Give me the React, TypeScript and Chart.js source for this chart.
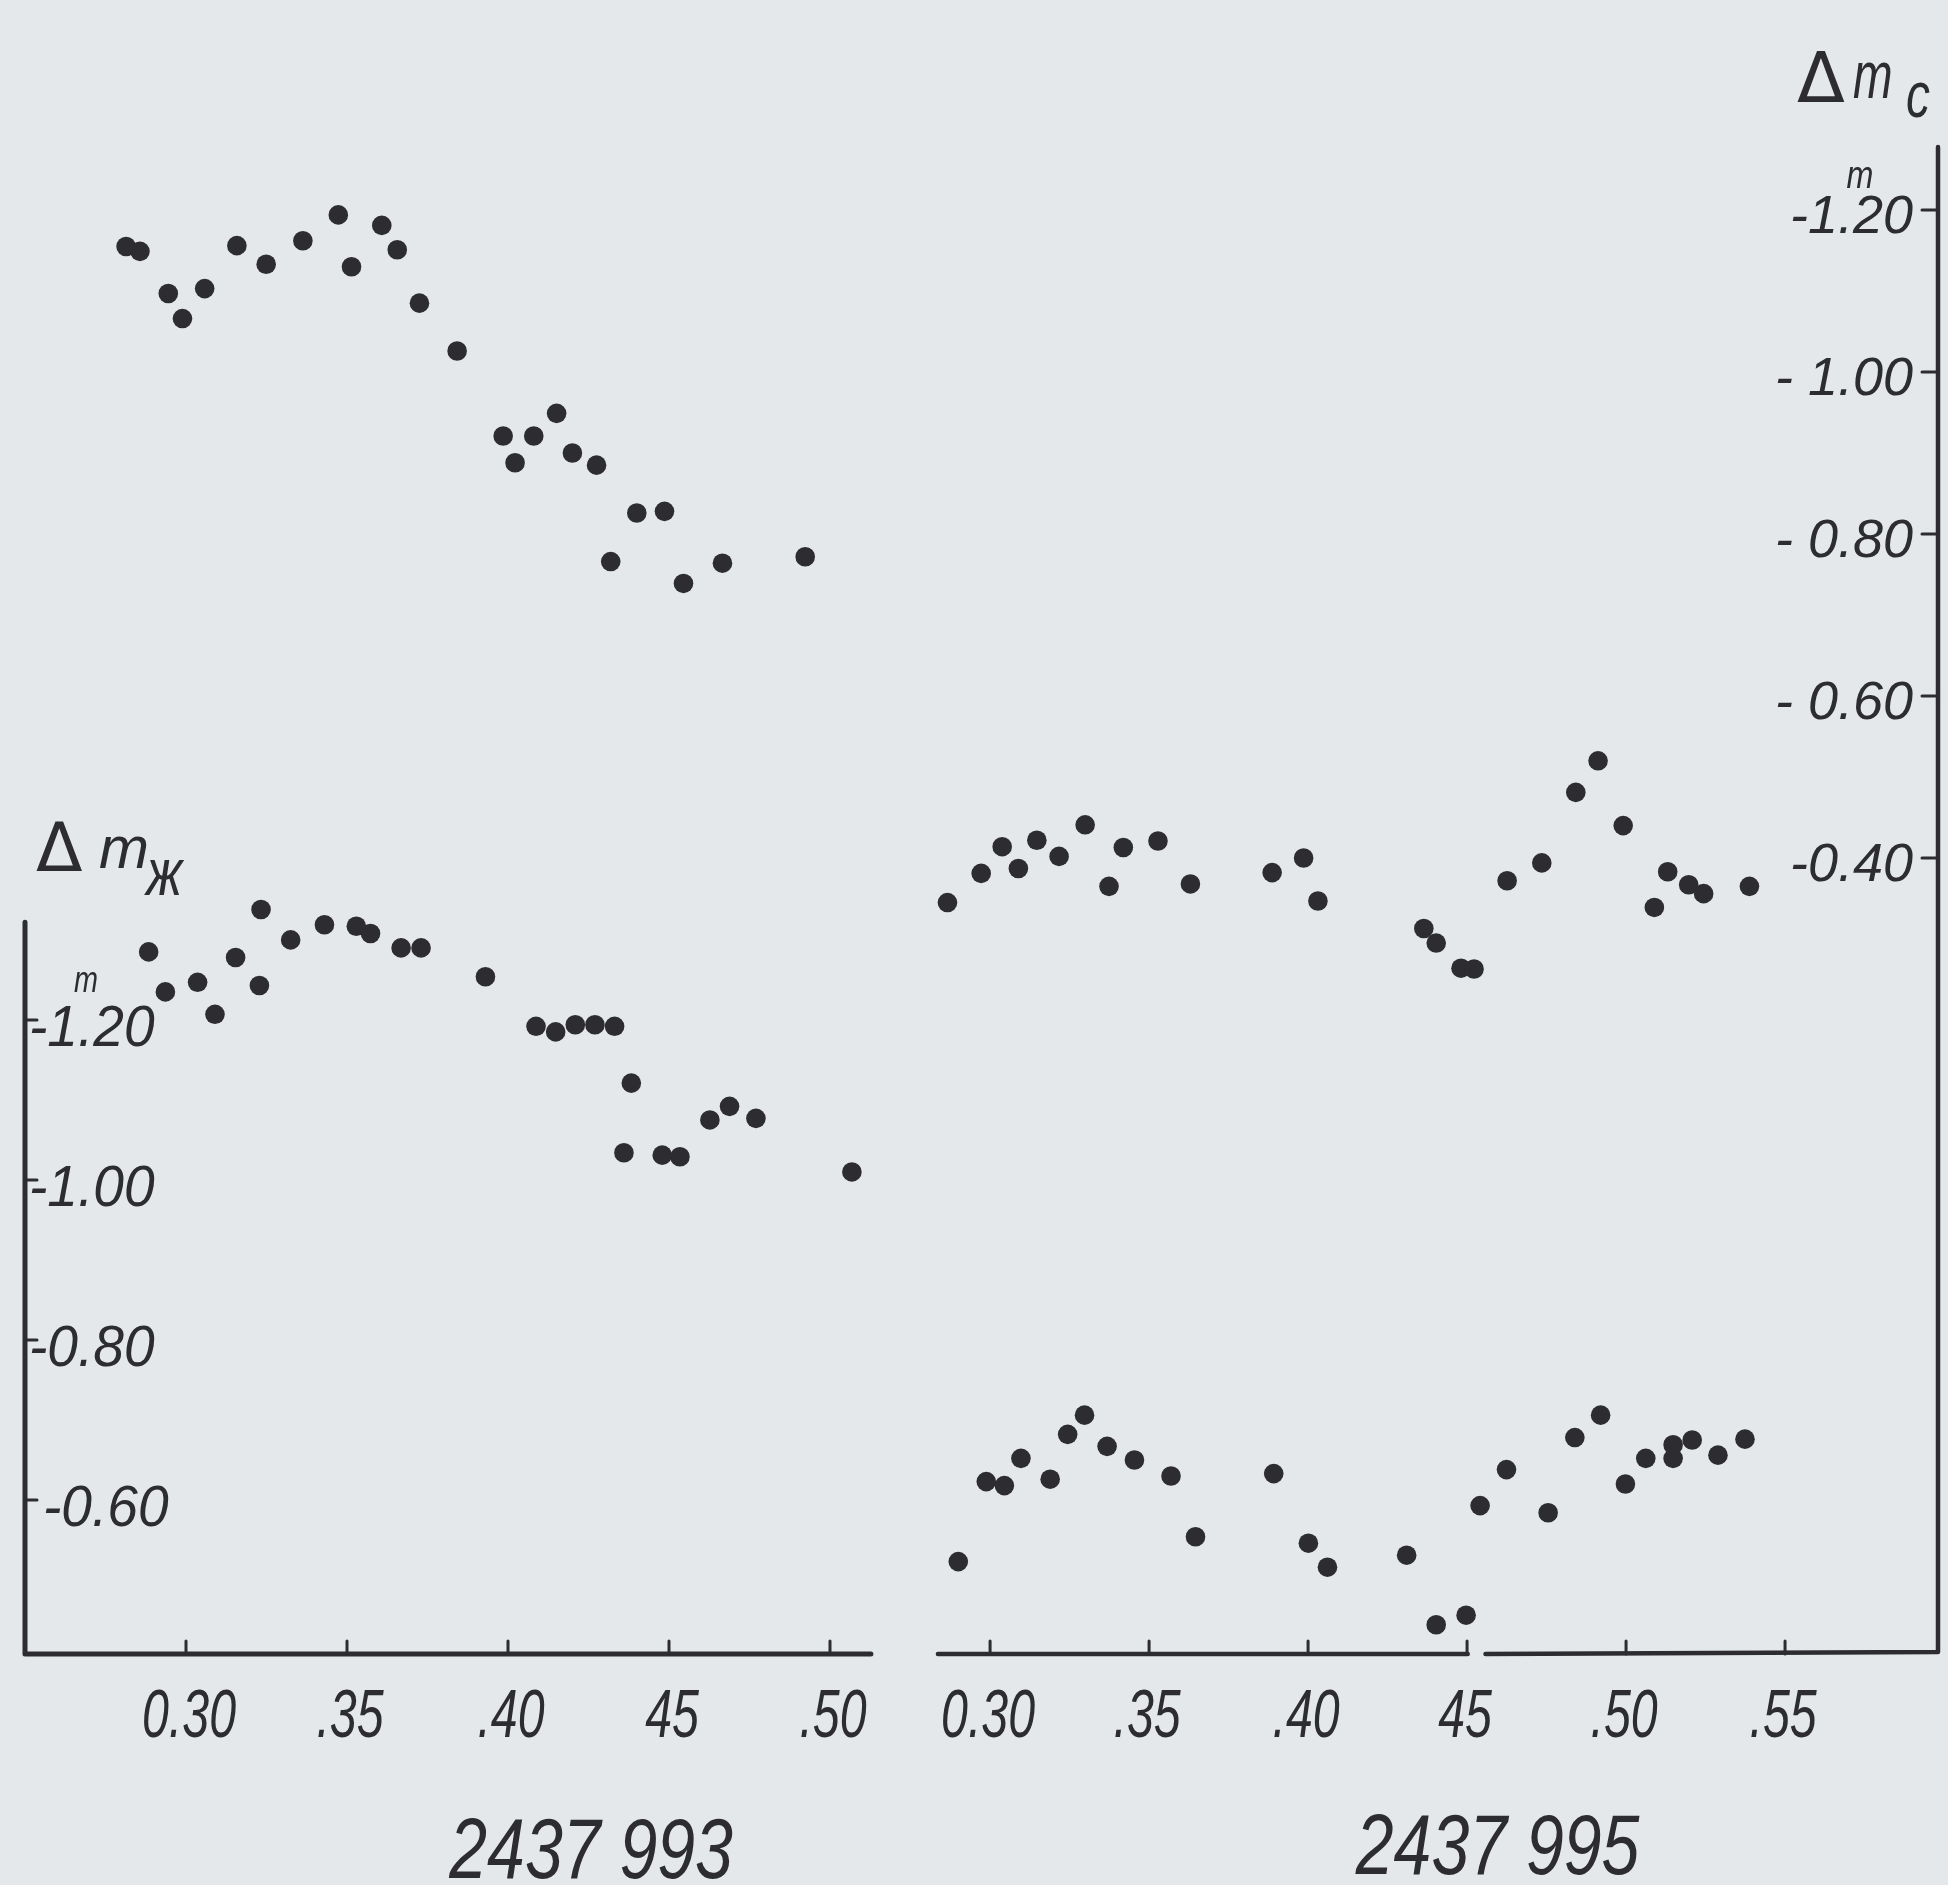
import React, { useEffect, useRef } from "react";
import { Chart, registerables } from "chart.js";

Chart.register(...registerables);

// ---- Data: JD 2437 993, comparison-star magnitude differences ----
const phaseC993 = [0.2814, 0.2857, 0.2945, 0.2989, 0.3058, 0.3158, 0.3249, 0.3363, 0.3473, 0.3514, 0.3608, 0.3656, 0.3725, 0.3842, 0.3985, 0.4022, 0.408, 0.4151, 0.42, 0.4275, 0.4319, 0.44, 0.4486, 0.4545, 0.4666, 0.4923];
const magC993 = [-1.155, -1.149, -1.097, -1.066, -1.103, -1.156, -1.133, -1.162, -1.194, -1.13, -1.181, -1.151, -1.085, -1.026, -0.921, -0.888, -0.921, -0.949, -0.9, -0.885, -0.766, -0.826, -0.828, -0.739, -0.764, -0.772];

const phaseZh993 = [0.2884, 0.2936, 0.3036, 0.309, 0.3154, 0.3228, 0.3233, 0.3325, 0.343, 0.3529, 0.3573, 0.3668, 0.373, 0.393, 0.4087, 0.4148, 0.4209, 0.427, 0.4331, 0.4383, 0.436, 0.4479, 0.4534, 0.4627, 0.4688, 0.477, 0.5068];
const magZh993 = [-1.285, -1.235, -1.247, -1.207, -1.278, -1.243, -1.338, -1.3, -1.319, -1.317, -1.308, -1.29, -1.29, -1.254, -1.192, -1.185, -1.194, -1.194, -1.192, -1.121, -1.034, -1.031, -1.029, -1.075, -1.092, -1.077, -1.01];

// ---- Data: JD 2437 995 ----
const phaseC995 = [0.2866, 0.2972, 0.3038, 0.3089, 0.3147, 0.3217, 0.3299, 0.3374, 0.3419, 0.3528, 0.363, 0.3887, 0.3986, 0.4031, 0.4364, 0.4403, 0.4481, 0.4522, 0.4626, 0.4735, 0.4842, 0.4912, 0.4991, 0.5089, 0.5131, 0.5197, 0.5244, 0.5388];
const magC995 = [-0.345, -0.381, -0.414, -0.387, -0.422, -0.402, -0.441, -0.365, -0.413, -0.421, -0.368, -0.382, -0.4, -0.347, -0.313, -0.295, -0.264, -0.263, -0.372, -0.394, -0.481, -0.52, -0.44, -0.339, -0.383, -0.367, -0.356, -0.365];

const phaseZh995 = [0.29, 0.2988, 0.3045, 0.3097, 0.3189, 0.3244, 0.3297, 0.3368, 0.3454, 0.3569, 0.3646, 0.3892, 0.4001, 0.4061, 0.431, 0.4403, 0.4497, 0.4541, 0.4624, 0.4755, 0.4839, 0.492, 0.4998, 0.5062, 0.5148, 0.5148, 0.5208, 0.5289, 0.5374];
const magZh995 = [-0.523, -0.623, -0.618, -0.652, -0.626, -0.682, -0.706, -0.667, -0.65, -0.63, -0.554, -0.633, -0.546, -0.516, -0.531, -0.444, -0.456, -0.593, -0.638, -0.584, -0.678, -0.706, -0.62, -0.652, -0.652, -0.669, -0.675, -0.656, -0.676];

// ---- Ticks & labels ----
const ticks993 = [0.3, 0.35, 0.4, 0.45, 0.5];
const tickLabels993 = ["0.30", ".35", ".40", "45", ".50"];
const ticks995 = [0.3, 0.35, 0.4, 0.45, 0.5, 0.55];
const tickLabels995 = ["0.30", ".35", ".40", "45", ".50", ".55"];
const ticksC = [-1.2, -1.0, -0.8, -0.6, -0.4];
const tickLabelsC = ["-1.20", "- 1.00", "- 0.80", "- 0.60", "-0.40"];
const ticksZh = [-1.2, -1.0, -0.8, -0.6];
const tickLabelsZh = ["-1.20", "-1.00", "-0.80", "-0.60"];
const panelTitles = ["2437 993", "2437 995"];
const axisTitleC = ["Δ", "m", "c"];
const axisTitleZh = ["Δ", "m", "ж"];
const unitMark = "m";

const BG = "#e4e8ea";
const INK = "#2c2c31";
const SANS = '"Liberation Sans", "DejaVu Sans", sans-serif';
const DJV = '"DejaVu Sans", "Liberation Sans", sans-serif';

const toPts = (xs: number[], ys: number[]) => xs.map((x, i) => ({ x, y: ys[i] }));

function drawText(ctx: CanvasRenderingContext2D, text: string, x: number, y: number, font: string, align: CanvasTextAlign, sx: number) {
  ctx.save();
  ctx.font = font;
  ctx.textAlign = align;
  ctx.textBaseline = "alphabetic";
  ctx.translate(x, y);
  ctx.scale(sx, 1);
  ctx.fillText(text, 0, 0);
  ctx.restore();
}

const figurePlugin = {
  id: "figureAxes",
  beforeDraw(chart: any) {
    const { ctx } = chart;
    ctx.save();
    ctx.fillStyle = BG;
    ctx.fillRect(0, 0, chart.width, chart.height);
    ctx.restore();
  },
  beforeDatasetsDraw(chart: any) {
    const { ctx, chartArea: a, scales } = chart;
    const xa = scales.x993;
    const xb = scales.x995;
    const yc = scales.yC;
    const yz = scales.yZh;
    ctx.save();
    ctx.strokeStyle = INK;
    ctx.fillStyle = INK;
    ctx.lineCap = "round";
    ctx.lineJoin = "round";

    // axis frame lines
    ctx.lineWidth = 5;
    ctx.beginPath();
    ctx.moveTo(a.left, yz.getPixelForValue(-1.322));
    ctx.lineTo(a.left, a.bottom);
    ctx.lineTo(xa.getPixelForValue(0.5127), a.bottom);
    ctx.stroke();

    ctx.lineWidth = 4.5;
    ctx.beginPath();
    ctx.moveTo(xb.getPixelForValue(0.2836), a.bottom);
    ctx.lineTo(xb.getPixelForValue(0.4502), a.bottom);
    ctx.stroke();
    ctx.beginPath();
    ctx.moveTo(xb.getPixelForValue(0.4558), a.bottom);
    ctx.lineTo(a.right, a.bottom - 2);
    ctx.lineTo(a.right, a.top);
    ctx.stroke();

    // x tick marks (inward)
    ctx.lineWidth = 3;
    const tl = 13;
    ticks993.forEach((v) => {
      const px = xa.getPixelForValue(v);
      ctx.beginPath();
      ctx.moveTo(px, a.bottom);
      ctx.lineTo(px, a.bottom - tl);
      ctx.stroke();
    });
    ticks995.forEach((v) => {
      const px = xb.getPixelForValue(v);
      ctx.beginPath();
      ctx.moveTo(px, a.bottom);
      ctx.lineTo(px, a.bottom - tl);
      ctx.stroke();
    });
    // y tick marks
    ticksZh.forEach((v) => {
      const py = yz.getPixelForValue(v);
      ctx.beginPath();
      ctx.moveTo(a.left, py);
      ctx.lineTo(a.left + 12, py);
      ctx.stroke();
    });
    ticksC.forEach((v) => {
      const py = yc.getPixelForValue(v);
      ctx.beginPath();
      ctx.moveTo(a.right, py);
      ctx.lineTo(a.right - 16, py);
      ctx.stroke();
    });

    // x tick labels (tall condensed italic)
    const xFont = `italic 69px ${SANS}`;
    ticks993.forEach((v, i) => {
      drawText(ctx, tickLabels993[i], xa.getPixelForValue(v) + 3, a.bottom + 83, xFont, "center", 0.7);
    });
    ticks995.forEach((v, i) => {
      drawText(ctx, tickLabels995[i], xb.getPixelForValue(v) - 2, a.bottom + 83, xFont, "center", 0.7);
    });

    // panel titles
    const tFont = `italic 85px ${SANS}`;
    drawText(ctx, panelTitles[0], xa.getPixelForValue(0.4258), a.bottom + 224, tFont, "center", 0.8);
    drawText(ctx, panelTitles[1], xb.getPixelForValue(0.4596), a.bottom + 220, tFont, "center", 0.8);

    // left y labels (inside)
    const lFont = `italic 58px ${SANS}`;
    ticksZh.forEach((v, i) => {
      const py = yz.getPixelForValue(v);
      drawText(ctx, tickLabelsZh[i], a.left + (i === 3 ? 18 : 4), py + 26, lFont, "left", 0.95);
    });
    // right y labels (inside)
    const rFont = `italic 54px ${SANS}`;
    ticksC.forEach((v, i) => {
      const py = yc.getPixelForValue(v);
      drawText(ctx, tickLabelsC[i], a.right - 25, py + 23, rFont, "right", 1);
    });

    // unit superscripts
    drawText(ctx, unitMark, a.right - 78, yc.getPixelForValue(-1.2) - 22, `italic 38px ${SANS}`, "center", 0.85);
    drawText(ctx, unitMark, a.left + 61, yz.getPixelForValue(-1.2) - 28, `italic 36px ${SANS}`, "center", 0.8);

    // axis titles
    drawText(ctx, axisTitleC[0], 1797, 102, `70px ${DJV}`, "left", 1.0);
    drawText(ctx, axisTitleC[1], 1853, 98, `italic 66px ${SANS}`, "left", 0.72);
    drawText(ctx, axisTitleC[2], 1906, 117, `italic 64px ${SANS}`, "left", 0.75);

    drawText(ctx, axisTitleZh[0], 36, 871, `68px ${DJV}`, "left", 1.0);
    drawText(ctx, axisTitleZh[1], 99, 868, `italic 60px ${SANS}`, "left", 1.0);
    drawText(ctx, axisTitleZh[2], 146, 895, `italic 66px ${SANS}`, "left", 0.8);

    ctx.restore();
  },
};

export default function App() {
  const ref = useRef<HTMLCanvasElement>(null);
  useEffect(() => {
    document.body.style.margin = "0";
    document.body.style.background = BG;
    const canvas = ref.current;
    if (!canvas) return;
    const dot = {
      pointRadius: 9.8,
      pointBackgroundColor: INK,
      pointBorderColor: INK,
      pointBorderWidth: 0,
      showLine: false,
    };
    const chart = new Chart(canvas, {
      type: "scatter",
      data: {
        datasets: [
          { label: "Δm_c 2437993", data: toPts(phaseC993, magC993), xAxisID: "x993", yAxisID: "yC", ...dot },
          { label: "Δm_ж 2437993", data: toPts(phaseZh993, magZh993), xAxisID: "x993", yAxisID: "yZh", ...dot },
          { label: "Δm_c 2437995", data: toPts(phaseC995, magC995), xAxisID: "x995", yAxisID: "yC", ...dot },
          { label: "Δm_ж 2437995", data: toPts(phaseZh995, magZh995), xAxisID: "x995", yAxisID: "yZh", ...dot },
        ],
      },
      options: {
        responsive: false,
        maintainAspectRatio: false,
        devicePixelRatio: 1,
        animation: false,
        events: [],
        layout: { padding: { left: 25, right: 10, top: 147, bottom: 231 } },
        plugins: { legend: { display: false }, tooltip: { enabled: false }, title: { display: false } },
        scales: {
          x993: { type: "linear", position: "bottom", display: false, min: 0.25, max: 0.8441 },
          x995: { type: "linear", position: "bottom", display: false, min: -0.0035, max: 0.5981 },
          yC: { type: "linear", position: "right", display: false, reverse: true, min: -1.2778, max: 0.5827 },
          yZh: { type: "linear", position: "left", display: false, reverse: true, min: -2.291, max: -0.4075 },
        },
      },
      plugins: [figurePlugin],
    });
    return () => chart.destroy();
  }, []);
  return <canvas ref={ref} width={1948} height={1885} style={{ display: "block", width: 1948, height: 1885 }} />;
}
